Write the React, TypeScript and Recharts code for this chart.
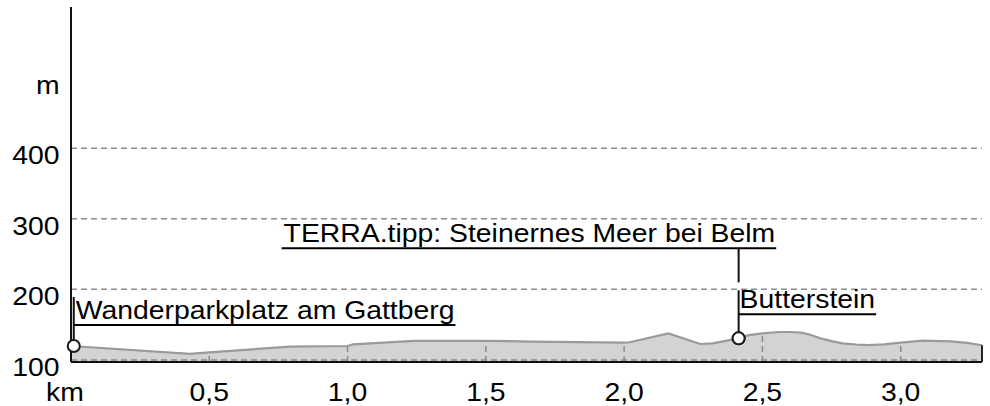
import React, { useLayoutEffect, useRef, useState } from 'react';
import { ComposedChart, Area, XAxis, YAxis, ReferenceLine, ReferenceDot } from 'recharts';

// ---- data ----
const distanceKm = [0, 0.43, 0.5, 0.79, 1.0, 1.02, 1.24, 1.5, 1.66, 2.0, 2.02, 2.16, 2.275, 2.32, 2.414, 2.45, 2.5, 2.56, 2.6, 2.64, 2.67, 2.71, 2.75, 2.79, 2.84, 2.88, 2.94, 3.0, 3.04, 3.08, 3.18, 3.24, 3.294];
const elevationM = [119.7, 108.5, 110.5, 118.8, 119.7, 122, 127, 127, 126, 124.4, 125, 137.6, 122.5, 123.5, 130.5, 135, 137.6, 139.5, 139.5, 138.5, 136, 130.5, 126.5, 123.5, 121.8, 121, 122, 124.4, 126, 127.2, 126.3, 124, 120.7];
const xTicks = [0, 0.5, 1.0, 1.5, 2.0, 2.5, 3.0];
const yTicks = [100, 200, 300, 400, 500];
const gridElevations = [100, 200, 300, 400];
const xUnitLabel = 'km';
const yUnitLabel = 'm';
const poiNames = ['Wanderparkplatz am Gattberg', 'Butterstein', 'TERRA.tipp: Steinernes Meer bei Belm'];
const poiKm = [0.01, 2.414, 2.414];
const poiElev = [119.7, 130.5, 130.5];

const profile = distanceKm.map((km, i) => ({ km, elev: elevationM[i] }));
const Y_MIN = 97;
const Y_MAX = 600;
const X_MAX = distanceKm[distanceKm.length - 1];

// ---- styles ----
const FONT = '"Liberation Sans", Arial, Helvetica, sans-serif';
const FONT_SIZE = 26.5;
const STRETCH = 1.07;

const labelLayout = [
  { lineFrom: 0, lineTo: -49, textDx: 2, baselineDy: -27, ulStartDx: 0 },
  { lineFrom: 0, lineTo: -48, textDx: 1, baselineDy: -30, ulStartDx: 0 },
  { lineFrom: -56, lineTo: -90, textDx: -455, baselineDy: -96, ulStartDx: -457 },
];

function StretchText({ x, y, anchor, children }: any) {
  return (
    <text
      transform={`translate(${x},${y}) scale(${STRETCH},1)`}
      textAnchor={anchor}
      fontFamily={FONT}
      fontSize={FONT_SIZE}
      fill="#000"
    >
      {children}
    </text>
  );
}

function YTick(props: any) {
  const { x, y, payload } = props;
  const label = payload.value === 500 ? yUnitLabel : String(payload.value);
  return <StretchText x={x - 3.5} y={y + 16} anchor="end">{label}</StretchText>;
}

function XTick(props: any) {
  const { x, y, payload } = props;
  const v = payload.value;
  const label = v === 0 ? xUnitLabel : v.toFixed(1).replace('.', ',');
  return <StretchText x={v === 0 ? x - 6 : x} y={y + 31} anchor="middle">{label}</StretchText>;
}

function Annotation({ cx, cy, name, layout }: any) {
  const ref = useRef<SVGTextElement>(null);
  const [w, setW] = useState(0);
  useLayoutEffect(() => {
    if (ref.current) setW(ref.current.getComputedTextLength() * STRETCH);
  }, [name]);
  const tx = cx + layout.textDx;
  const by = cy + layout.baselineDy;
  return (
    <g>
      <line x1={cx} y1={cy + layout.lineFrom} x2={cx} y2={cy + layout.lineTo} stroke="#111" strokeWidth={2} />
      <text
        ref={ref}
        transform={`translate(${tx},${by}) scale(${STRETCH},1)`}
        fontFamily={FONT}
        fontSize={FONT_SIZE}
        fill="#000"
      >
        {name}
      </text>
      {w > 0 && (
        <line x1={cx + layout.ulStartDx} x2={tx + w + 1} y1={by + 6} y2={by + 6} stroke="#000" strokeWidth={2} />
      )}
      <circle cx={cx} cy={cy} r={6} fill="#fff" stroke="#1a1a1a" strokeWidth={2} />
    </g>
  );
}

export default function App() {
  return (
    <div style={{ position: 'absolute', left: 0, top: 0, background: '#fff' }}>
      <ComposedChart width={990} height={406} data={profile} margin={{ top: 7, right: 8, bottom: 0, left: 0 }}>
        <XAxis
          dataKey="km"
          type="number"
          domain={[0, X_MAX]}
          allowDataOverflow
          ticks={xTicks}
          interval={0}
          height={44}
          tickLine={false}
          axisLine={{ stroke: '#111', strokeWidth: 2 }}
          tick={<XTick />}
        />
        <YAxis
          type="number"
          domain={[Y_MIN, Y_MAX]}
          allowDataOverflow
          ticks={yTicks}
          interval={0}
          width={71}
          tickLine={false}
          axisLine={{ stroke: '#111', strokeWidth: 2 }}
          tick={<YTick />}
        />
        {gridElevations.slice(1).map((g) => (
          <ReferenceLine key={'h' + g} y={g} stroke="#8c8c8c" strokeWidth={1.5} strokeDasharray="6 4" />
        ))}
        <Area
          type="linear"
          dataKey="elev"
          stroke="#9a9a9a"
          strokeWidth={2.2}
          fill="#d3d3d3"
          fillOpacity={1}
          baseValue={Y_MIN}
          isAnimationActive={false}
          dot={false}
          activeDot={false}
        />
        <ReferenceLine y={gridElevations[0]} stroke="#8c8c8c" strokeWidth={1.5} strokeDasharray="6 4" />
        {xTicks.slice(1).map((t) => {
          const p = profile.find((d) => d.km === t);
          return (
            <ReferenceLine
              key={'v' + t}
              segment={[{ x: t, y: Y_MIN }, { x: t, y: p ? p.elev : Y_MIN }]}
              stroke="#8c8c8c"
              strokeWidth={1.5}
              strokeDasharray="6 4"
            />
          );
        })}
        <ReferenceLine
          segment={[{ x: X_MAX, y: Y_MIN }, { x: X_MAX, y: elevationM[elevationM.length - 1] }]}
          stroke="#222"
          strokeWidth={2}
        />
        {poiNames.map((name, i) => (
          <ReferenceDot
            key={name}
            x={poiKm[i]}
            y={poiElev[i]}
            r={6}
            shape={(p: any) => <Annotation cx={p.cx} cy={p.cy} name={name} layout={labelLayout[i]} />}
          />
        ))}
      </ComposedChart>
    </div>
  );
}
